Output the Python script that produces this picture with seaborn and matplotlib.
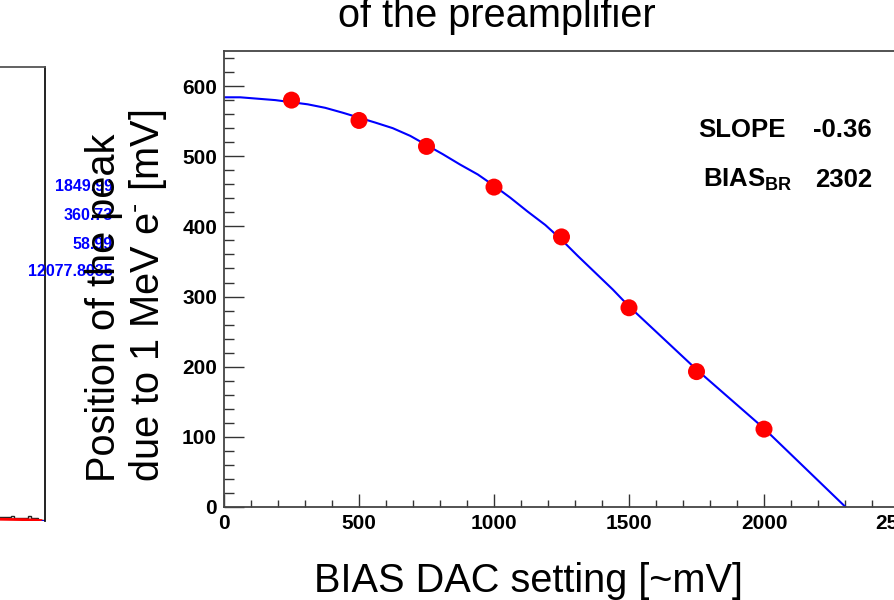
import matplotlib
matplotlib.use("Agg")
import matplotlib.pyplot as plt
import seaborn as sns
from matplotlib.ticker import MultipleLocator

# ---- data ----
bias_dac = [250, 500, 750, 1000, 1250, 1500, 1750, 2000]
peak_pos = [580, 551, 514, 456, 385, 284, 193, 111]

fit_x = [0, 60, 125, 190, 250, 310, 375, 440, 500, 560, 625, 690, 750, 810, 875, 940,
         1000, 1060, 1125, 1190, 1250, 1310, 1375, 1440, 1500, 1750, 2000, 2302]
fit_y = [584, 584, 582, 580, 577, 574, 569, 562, 555, 548, 540, 529, 516, 503, 488, 474,
         458, 441, 421, 402, 381, 358, 334, 310, 286, 196, 112, 0]

x_ticks = [0, 500, 1000, 1500, 2000, 2500]
y_ticks = [0, 100, 200, 300, 400, 500, 600]

stat_labels = ["SLOPE", r"BIAS$_{\mathbf{BR}}$"]
stat_values = ["-0.36", "2302"]

left_stats = ["1849.99", "360.73", "58.99", "12077.8035"]
hist_edges = [86, 88, 90, 91, 93, 95, 96, 98, 100]
hist_counts = [0.8, 0.8, 1.2, 0.7, 0.7, 1.0, 0.7, 0.3]
red_x = [86, 90, 94, 97, 99]
red_y = [0.4, 0.35, 0.3, 0.2, 0.1]

# ---- style ----
sns.set_theme(style="white")
plt.rcParams['font.family'] = ['Liberation Sans', 'DejaVu Sans']
plt.rcParams['mathtext.fontset'] = 'custom'
plt.rcParams['mathtext.rm'] = 'Liberation Sans'
plt.rcParams['mathtext.it'] = 'Liberation Sans:italic'
plt.rcParams['mathtext.bf'] = 'Liberation Sans:bold'

W, H = 894, 600
fig = plt.figure(figsize=(W / 100, H / 100), dpi=100)
fig.patch.set_facecolor('white')


def fx(px):
    return px / W


def fy(py):
    return 1 - py / H


# ---- left (cut-off) panel ----
axl = fig.add_axes([fx(-300), fy(521), 345 / W, (521 - 67) / H])
axl.stairs(hist_counts, hist_edges, color='#222222', lw=1)
sns.lineplot(x=red_x, y=red_y, ax=axl, color='#ff0000', lw=2, estimator=None, sort=False)
axl.plot([99, 100], [0.05, 0.05], color='#0000ff', lw=2)
axl.set_xlim(0, 100)
axl.set_ylim(0, 100)
axl.set_xticks([])
axl.set_yticks([])
axl.set_xlabel('')
axl.set_ylabel('')
for s in ['left', 'bottom']:
    axl.spines[s].set_visible(False)
axl.spines['top'].set_color('#555555')
axl.spines['right'].set_color('#111111')
for s in ['top', 'right']:
    axl.spines[s].set_linewidth(1.3)

# ---- main panel ----
ax = fig.add_axes([fx(224), fy(507), (953 - 224) / W, (507 - 51) / H])
sns.lineplot(x=fit_x, y=fit_y, ax=ax, color='#0000ff', lw=1.5, estimator=None, sort=False, zorder=2)
sns.scatterplot(x=bias_dac, y=peak_pos, ax=ax, color='#ff0000', s=150, edgecolor='none',
                linewidth=0, zorder=3)
ax.set_xlim(0, 2700)
ax.set_ylim(0, 650)
ax.set_xticks(x_ticks)
ax.set_yticks(y_ticks)
ax.xaxis.set_minor_locator(MultipleLocator(100))
ax.yaxis.set_minor_locator(MultipleLocator(20))
ax.set_xlabel('')
ax.set_ylabel('')
ax.tick_params(which='both', direction='in', bottom=True, left=True, top=False, right=False,
               colors='#333333', labelcolor='black', width=1)
ax.tick_params(axis='y', which='major', length=14.4, pad=5, labelsize=15)
ax.tick_params(axis='y', which='minor', length=7.2)
ax.tick_params(axis='x', which='major', length=9.4, pad=5, labelsize=15)
ax.tick_params(axis='x', which='minor', length=5)
for lbl in ax.get_xticklabels() + ax.get_yticklabels():
    lbl.set_fontweight('bold')
for s in ['top', 'left', 'bottom', 'right']:
    ax.spines[s].set_color('#444444')
    ax.spines[s].set_linewidth(1.3)

# ---- texts ----
for i, v in enumerate(left_stats):
    fig.text(fx(113), fy([186, 215, 244, 271][i]), v, ha='right', va='center',
             fontsize=11.5, fontweight='bold', color='#0000ff')

fig.text(fx(127), fy(482), "Position of the peak\ndue to 1 MeV e$^{\\text{-}}$ [mV]", rotation=90,
         ha='center', va='bottom', multialignment='left', fontsize=28.6, linespacing=1.1,
         color='black')

fig.text(fx(528), fy(592), "BIAS DAC setting [~mV]", ha='center', va='baseline',
         fontsize=28.6, color='black')

fig.text(fx(497), fy(27), "of the preamplifier", ha='center', va='baseline',
         fontsize=28.6, color='black')

for i, (lab, val) in enumerate(zip(stat_labels, stat_values)):
    yb = [137, 187][i]
    xl = [698, 703][i]
    fig.text(fx(xl), fy(yb), lab, ha='left', va='baseline', fontsize=18.5,
             fontweight='bold', color='black')
    fig.text(fx(872), fy(yb), val, ha='right', va='baseline', fontsize=18.5,
             fontweight='bold', color='black')

fig.savefig('out.png', dpi=100, facecolor='white')
